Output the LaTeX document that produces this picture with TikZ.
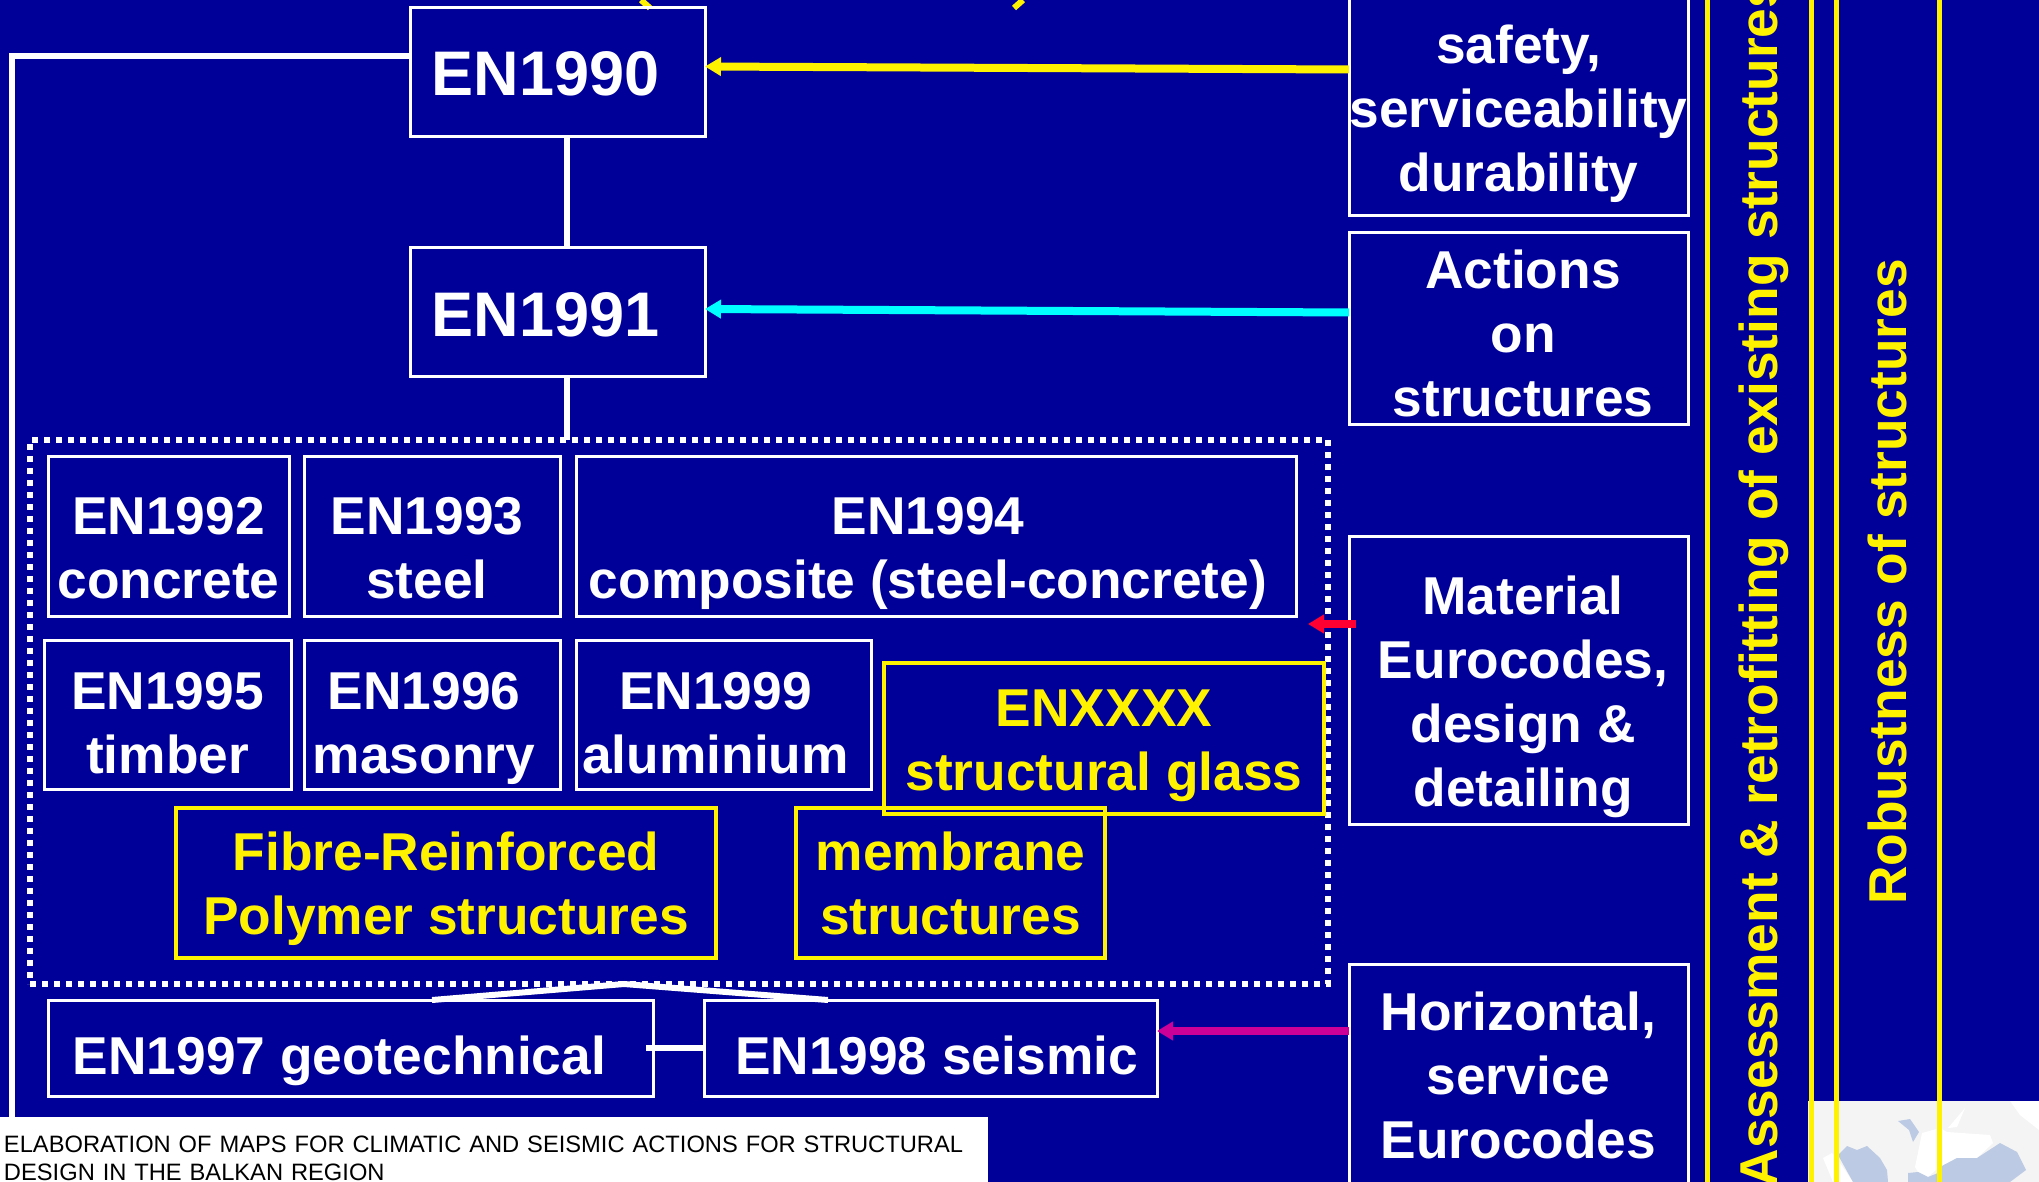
\documentclass[tikz,border=0pt]{standalone}
\usepackage{fontspec}
\setmainfont{Liberation Sans}
\usetikzlibrary{positioning,arrows.meta}

\definecolor{slideblue}{HTML}{000099}
\definecolor{arrowcyan}{HTML}{00FFFF}
\definecolor{arrowred}{HTML}{FF0033}
\definecolor{arrowmagenta}{HTML}{CC0099}
\definecolor{mapgrey}{HTML}{F4F4F4}
\definecolor{mapblue}{HTML}{BCCAE4}

\tikzset{
	codepicture/.style = {
		x = 1pt,
		y = -1pt,
		node distance = 15pt,
		link/.style = {
			draw = white,
			line width = 6pt
		},
		pointer/.style = {
			draw,
			line width = 8pt,
			-{Triangle[length = 16pt, width = 18pt]}
		}
	},
	codebox/.style = {
		draw = white,
		line width = 3pt,
		outer sep = 0pt,
		inner sep = 0pt,
		align = center,
		text = white,
		font = \bfseries\fontsize{53.3}{64}\selectfont
	},
	boxsize/.style 2 args = {
		minimum width = #1,
		minimum height = #2
	},
	below mid/.style = {
		text height = #1,
		text depth = 0pt
	},
	newbox/.style = {
		codebox,
		draw = yellow,
		line width = 4.5pt,
		text = yellow
	},
	topbox/.style = {
		codebox,
		font = \bfseries\fontsize{63}{76}\selectfont
	},
	sidebox/.style = {
		draw = yellow,
		line width = 5pt,
		outer sep = 0pt,
		boxsize = {#1}{1300pt}
	},
	sidetext/.style = {
		rotate = 90,
		text = yellow,
		inner sep = 0pt,
		font = \bfseries\fontsize{53.3}{64}\selectfont
	},
	mapsea/.style = {
		fill = mapblue
	},
	mapland/.style = {
		fill = white
	}
}

\begin{document}
\begin{tikzpicture}[codepicture]
	\useasboundingbox[fill = slideblue] (0,0) rectangle (2039,1182);

	% map in the corner
	\fill[mapgrey] (1808,1101) rectangle (2039,1182);
	\fill[mapland] (2010,1101) -- (2039,1101) -- (2039,1130) -- (2020,1115) -- cycle;
	\fill[mapland] (1823,1158) -- (1832,1153) -- (1838,1160) -- (1853,1182) -- (1833,1182) -- cycle;
	\fill[mapland] (1948,1128) -- (1965,1108) -- (1957,1127) -- cycle;
	\fill[mapland] (1915,1167) -- (1922,1133) -- (1940,1128) -- (1947,1132) -- (1990,1135) -- (1993,1143) -- (1977,1158) -- (1957,1158) -- (1938,1168) -- (1928,1177) -- (1918,1172) -- cycle;
	\fill[mapsea] (1838,1155) -- (1847,1146) -- (1857,1150) -- (1867,1146) -- (1880,1158) -- (1887,1170) -- (1888,1182) -- (1853,1182) -- cycle;
	\fill[mapsea] (1898,1121) -- (1910,1119) -- (1919,1132) -- (1913,1142) -- (1909,1130) -- cycle;
	\fill[mapsea] (1938,1168) -- (1957,1158) -- (1977,1158) -- (2000,1143) -- (2017,1152) -- (2026,1170) -- (2010,1182) -- (1938,1182) -- cycle;
	\fill[mapsea] (1908,1173) -- (1918,1172) -- (1928,1177) -- (1938,1173) -- (1938,1182) -- (1908,1182) -- cycle;

	% ends of the cut title
	\draw[yellow, line width = 6pt] (641,0) -- (650,8);
	\draw[yellow, line width = 6pt] (1023,0) -- (1014,8);

	\node[topbox, below mid = 46pt, boxsize = {295pt}{129pt}, anchor = north west] (EN1990) at (410,8) {EN1990\hspace*{24pt}};
	\node[topbox, below mid = 48pt, boxsize = {295pt}{128pt}, below = 111pt of EN1990] (EN1991) {EN1991\hspace*{24pt}};

	\node[draw = white, line width = 6pt, dash pattern = on 6pt off 6pt, outer sep = 0pt, boxsize = {1298pt}{544pt}, anchor = north west] (group) at (30,440) {};

	\node[codebox, below mid = 124pt, boxsize = {241pt}{160pt}, anchor = north west] (EN1992) at (48,456) {EN1992\\concrete};
	\node[codebox, below mid = 124pt, boxsize = {256pt}{160pt}, right = of EN1992] (EN1993) {EN1993\hspace*{10pt}\\steel\hspace*{10pt}};
	\node[codebox, below mid = 124pt, boxsize = {720pt}{160pt}, right = 16pt of EN1993] (EN1994) {EN1994\hspace*{16pt}\\composite (steel-concrete)\hspace*{16pt}};

	\node[codebox, below mid = 118pt, boxsize = {247pt}{149pt}, anchor = north west] (EN1995) at (44,640) {EN1995\\timber};
	\node[codebox, below mid = 118pt, boxsize = {256pt}{149pt}, right = 13pt of EN1995] (EN1996) {EN1996\hspace*{16pt}\\masonry\hspace*{16pt}};
	\node[codebox, below mid = 118pt, boxsize = {295pt}{149pt}, right = 16pt of EN1996] (EN1999) {EN1999\hspace*{16pt}\\aluminium\hspace*{16pt}};

	\node[newbox, below mid = 103pt, boxsize = {440pt}{151pt}, anchor = north west] (ENXXXX) at (884,663) {ENXXXX\\structural glass};
	\node[newbox, below mid = 103pt, boxsize = {540pt}{150pt}, anchor = north west] (FRP) at (176,808) {Fibre-Reinforced\\Polymer structures};
	\node[newbox, below mid = 103pt, boxsize = {309pt}{150pt}, anchor = north west] (membrane) at (796,808) {membrane\\structures};

	\node[codebox, below mid = 52pt, boxsize = {605pt}{96pt}, anchor = north west] (EN1997) at (48,1000) {EN1997 geotechnical\hspace*{22pt}};
	\node[codebox, below mid = 52pt, boxsize = {453pt}{96pt}, right = 51pt of EN1997] (EN1998) {\hspace*{12pt}EN1998 seismic};

	\node[codebox, below mid = 173pt, boxsize = {339pt}{221pt}, anchor = north west] (safety) at (1349,-5) {safety,\\serviceability\\durability};
	\node[codebox, below mid = 176pt, boxsize = {339pt}{191pt}, anchor = north west] (actions) at (1349,233) {\hspace*{9pt}Actions\\\hspace*{9pt}on\\\hspace*{9pt}structures};
	\node[codebox, below mid = 253pt, boxsize = {339pt}{288pt}, anchor = north west] (material) at (1349,536) {\hspace*{9pt}Material\\\hspace*{9pt}Eurocodes,\\\hspace*{9pt}design \&\\\hspace*{9pt}detailing};
	\node[codebox, below mid = 162pt, boxsize = {339pt}{226pt}, anchor = north west] (horizontal) at (1349,964) {Horizontal,\\service\\Eurocodes};

	\node[sidebox = {104pt}] (assess) at (1759,590) {};
	\node[sidetext, xshift = 7pt, yshift = -5pt] at (assess) {Assessment \& retrofitting of existing structures};
	\node[sidebox = {103pt}, right = 25pt of assess] (robust) {};
	\node[sidetext, xshift = 8pt] at (robust) {Robustness of structures};

	\node[fill = white, text = black, outer sep = 0pt, inner xsep = 4pt, inner ysep = 0pt, align = left, text width = 980pt, minimum height = 65pt, below mid = 5pt, anchor = north west, font = \fontsize{23.7}{28}\selectfont] (panel) at (0,1117) {ELABORATION OF MAPS FOR CLIMATIC AND SEISMIC ACTIONS FOR STRUCTURAL\\DESIGN IN THE BALKAN REGION};

	\coordinate (leftend) at (12,1117);
	\coordinate (spine) at (567,0);
	\coordinate (peak) at (624,984);
	\coordinate (foot1997) at (432,1000);
	\coordinate (foot1998) at (828,1000);
	\coordinate (redstart) at (1356,624);
	\coordinate (redend) at (1308,624);

	\path[link] ([yshift = 16pt]EN1990.west) -| (leftend);
	\path[link] (EN1990.south -| spine) -- (EN1991.north -| spine);
	\path[link] (EN1991.south -| spine) -- (group.north -| spine);
	\path[link] (foot1997) -- (peak) -- (foot1998);
	\path[link] ([xshift = -7pt]EN1997.east) -- (EN1998.west);

	\path[pointer, yellow] ([yshift = 36pt]safety.west) -- ([yshift = 6pt]EN1990.east);
	\path[pointer, arrowcyan] ([yshift = 16pt]actions.west) -- ([yshift = 3pt]EN1991.east);
	\path[pointer, arrowred] (redstart) -- (redend);
	\path[pointer, arrowmagenta] ([yshift = 46pt]horizontal.west) -- ([yshift = 17pt]EN1998.east);
\end{tikzpicture}
\end{document}
